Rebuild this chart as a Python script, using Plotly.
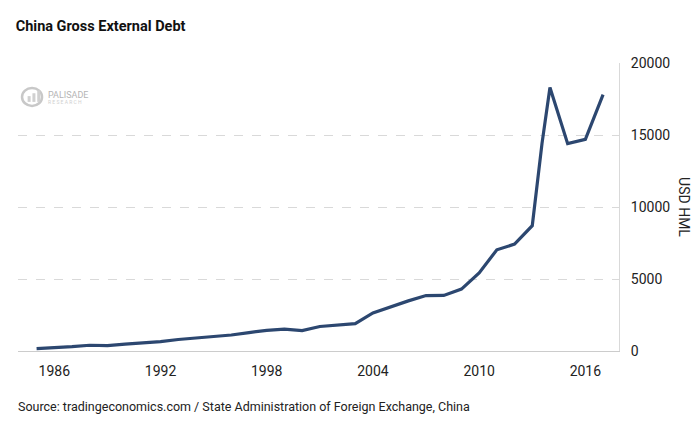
import plotly.graph_objects as go

# China gross external debt, USD hundred million
years = [1985, 1986, 1987, 1988, 1989, 1990, 1991, 1992, 1993, 1994,
         1995, 1996, 1997, 1998, 1999, 2000, 2001, 2002, 2003, 2004,
         2005, 2006, 2007, 2008, 2009, 2010, 2011, 2012, 2013, 2013.55,
         2014, 2015, 2016, 2017]
debt = [160, 210, 300, 400, 380, 480, 560, 650, 800, 900,
        1030, 1110, 1280, 1430, 1520, 1420, 1700, 1780, 1900, 2640,
        3080, 3480, 3850, 3860, 4300, 5420, 7030, 7420, 8700, 14400,
        18300, 14400, 14700, 17800]

tickYears = [1986, 1992, 1998, 2004, 2010, 2016]
yTicks = [0, 5000, 10000, 15000, 20000]

fig = go.Figure()
fig.add_trace(go.Scatter(x=years, y=debt, mode='lines',
                         line=dict(color='#2c4770', width=3.2),
                         hoverinfo='x+y'))

fig.update_layout(
    width=700, height=424,
    margin=dict(l=10, r=89, t=55, b=81),
    paper_bgcolor='white', plot_bgcolor='white',
    font=dict(family='Roboto', size=14, color='#222222'),
    showlegend=False,
    title=dict(text='<b>China Gross External Debt</b>', x=0.011, xanchor='left',
               y=0.957, yanchor='middle', font=dict(size=14.5, color='#111111')),
    xaxis=dict(range=[1983.95, 2017.9], tickvals=tickYears,
               ticktext=[str(y) for y in tickYears], showgrid=False,
               zeroline=False, showline=True, linecolor='#cccccc', linewidth=1,
               ticks='', ticklabelstandoff=7),
    yaxis=dict(range=[0, 20000], tickvals=yTicks,
               ticktext=[str(v) for v in yTicks], side='right',
               showgrid=True, gridcolor='#d9d9d9', griddash='dash',
               zeroline=False, showline=True, linecolor='#d9d9d9',
               ticks='', ticklabelstandoff=8),
)

# right-hand axis title reading downwards
fig.add_annotation(text='USD HML', xref='paper', yref='paper', x=1.108, y=0.5,
                   xanchor='center', yanchor='middle',
                   textangle=90, showarrow=False, font=dict(size=14, color='#222222'))

# source line
fig.add_annotation(text='Source: tradingeconomics.com / State Administration of Foreign Exchange, China',
                   xref='paper', yref='paper', x=-0.003, y=-0.194, xanchor='left',
                   yanchor='middle', showarrow=False, font=dict(size=12.5, color='#222222'))

# faint watermark logo
fig.add_shape(type='circle', xref='paper', yref='paper', x0=0.0067, x1=0.04,
              y0=0.851, y1=0.913, line=dict(color='#c8c8c8', width=2.5))
for i, h in enumerate([0.02, 0.03, 0.04]):
    fig.add_shape(type='rect', xref='paper', yref='paper',
                  x0=0.016 + i * 0.008, x1=0.021 + i * 0.008,
                  y0=0.865, y1=0.865 + h, line=dict(width=0), fillcolor='#d0d0d0')
fig.add_annotation(text='PALISADE', xref='paper', yref='paper', x=0.046, y=0.889,
                   xanchor='left', yanchor='middle', showarrow=False,
                   font=dict(size=9, color='#b5b5b5'))
fig.add_annotation(text='R E S E A R C H', xref='paper', yref='paper', x=0.046, y=0.865,
                   xanchor='left', yanchor='middle', showarrow=False,
                   font=dict(size=5, color='#d0d0d0'))

fig.write_html("out.html")
